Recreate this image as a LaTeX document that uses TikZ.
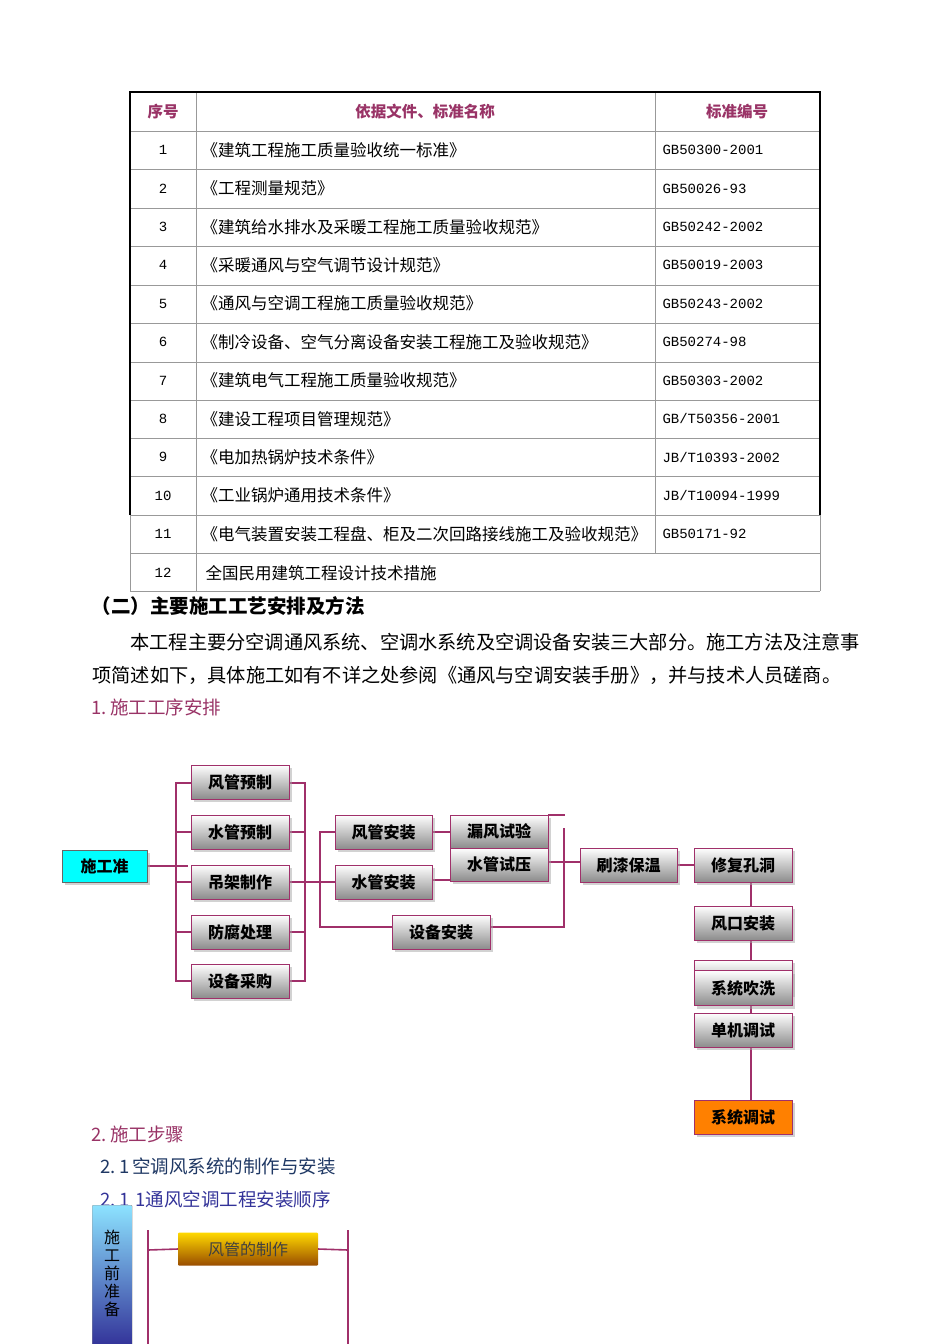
\documentclass[tikz,border=0pt]{standalone}
\usepackage{fontspec}
\setmainfont{Noto Sans CJK SC}
\newfontfamily\monof{Liberation Mono}
\usetikzlibrary{shadows}
\definecolor{mar}{HTML}{993366}
\definecolor{ln}{HTML}{A0306A}
\definecolor{dblue}{HTML}{1F3864}
\definecolor{pblue}{HTML}{333399}
\tikzset{
 gbox/.style={draw=ln,line width=1pt,top color=white,bottom color=black!45,minimum width=98pt,minimum height=34pt,inner sep=0pt,font=\fontsize{16}{16}\selectfont\bfseries,drop shadow={shadow xshift=3pt,shadow yshift=-3pt,fill=black!35}},
 wire/.style={draw=ln,line width=1.6pt},
 tline/.style={draw=black!40,line width=0.6pt},
 tc/.style={font=\fontsize{16.5}{16.5}\selectfont,anchor=west},
 tm/.style={font=\monof\fontsize{14}{14}\selectfont,anchor=west},
}
\begin{document}
\begin{tikzpicture}[x=1pt,y=-1pt]
\useasboundingbox[fill=white] (0,0) rectangle (950,1344);
% table
\foreach \y in {131,169,208,246,285,323,362,400,438,476,515,553} \draw[tline] (130,\y) -- (820,\y);
\draw[tline] (130,591) -- (820,591);
\draw[tline] (130,515) -- (130,591);
\draw[tline] (820,515) -- (820,591);
\draw[tline] (196,92) -- (196,591);
\draw[tline] (655,92) -- (655,553);
\draw[line width=1.8pt] (130,515) -- (130,92) -- (820,92) -- (820,515);
\node[font=\fontsize{15.5}{15.5}\selectfont\bfseries,text=mar] (h1) at (163,112) {序号};
\node[font=\fontsize{15.5}{15.5}\selectfont\bfseries,text=mar] (h2) at (425,112) {依据文件、标准名称};
\node[font=\fontsize{15.5}{15.5}\selectfont\bfseries,text=mar] (h3) at (737,112) {标准编号};
\foreach \i/\n/\c [count=\k] in {
 1/《建筑工程施工质量验收统一标准》/GB50300-2001,
 2/《工程测量规范》/GB50026-93,
 3/《建筑给水排水及采暖工程施工质量验收规范》/GB50242-2002,
 4/《采暖通风与空气调节设计规范》/GB50019-2003,
 5/《通风与空调工程施工质量验收规范》/GB50243-2002,
 6/《制冷设备、空气分离设备安装工程施工及验收规范》/GB50274-98,
 7/《建筑电气工程施工质量验收规范》/GB50303-2002,
 8/《建设工程项目管理规范》/{GB/T50356-2001},
 9/《电加热锅炉技术条件》/{JB/T10393-2002},
 10/《工业锅炉通用技术条件》/{JB/T10094-1999},
 11/《电气装置安装工程盘、柜及二次回路接线施工及验收规范》/GB50171-92}{
 \pgfmathsetmacro\yy{150+38.4*(\k-1)}
 \node[font=\monof\fontsize{14}{14}\selectfont] (n\k) at (163,\yy) {\i};
 \node[tc] (t\k) at (198,\yy) {\n};
 \node[tm] (c\k) at (659,\yy) {\c};
}
\node[font=\monof\fontsize{14}{14}\selectfont] (n12) at (163,573) {12};
\node[tc] (t12) at (202,573) {全国民用建筑工程设计技术措施};
% text
\node[anchor=west,font=\fontsize{19.5}{19.5}\selectfont\bfseries] (sec) at (88,606) {（二）主要施工工艺安排及方法};
\node[anchor=west,font=\fontsize{19.2}{19.2}\selectfont] (p1) at (127,642) {本工程主要分空调通风系统、空调水系统及空调设备安装三大部分。施工方法及注意事};
\node[anchor=west,font=\fontsize{19.2}{19.2}\selectfont] (p2) at (89,675) {项简述如下，具体施工如有不详之处参阅《通风与空调安装手册》，并与技术人员磋商。};
\node[anchor=west,font=\fontsize{18.5}{18.5}\selectfont,text=mar] (s1) at (88,707) {1.\,施工工序安排};
% flow chart wires
\draw[wire] (147,866) -- (188,866);
\draw[wire] (191,783) -| (176,981) -- (191,981);
\foreach \y in {832,882,932} \draw[wire] (176,\y) -- (191,\y);
\draw[wire] (289,783) -| (305,981) -- (289,981);
\foreach \y in {832,932} \draw[wire] (289,\y) -- (305,\y);
\draw[wire] (289,882) -- (335,882);
\draw[wire] (335,832) -| (320,927) -- (392,927);
\draw[wire] (432,832) -- (450,832);
\draw[wire] (432,880) -- (450,880);
\draw[wire] (548,815) -- (565,815);
\draw[wire] (490,927) -| (564,828);
\draw[wire] (548,862) -- (580,862);
\draw[wire] (677,865) -- (694,865);
\draw[wire] (751,882) -- (751,1100);
% boxes
\node[gbox,fill=cyan,top color=cyan,bottom color=cyan,draw=black!60,minimum width=85pt,minimum height=32pt] (a0) at (104.5,866) {施工准};
\node[gbox] (b1) at (240,782) {风管预制};
\node[gbox] (b2) at (240,832) {水管预制};
\node[gbox] (b3) at (240,882) {吊架制作};
\node[gbox] (b4) at (240,932) {防腐处理};
\node[gbox] (b5) at (240,981) {设备采购};
\node[gbox,minimum width=97pt] (c1) at (383.5,832) {风管安装};
\node[gbox,minimum width=97pt] (c2) at (383.5,882) {水管安装};
\node[gbox] (c3) at (441,932) {设备安装};
\node[gbox,minimum height=33pt] (d1) at (499,831.5) {漏风试验};
\node[gbox,minimum height=33pt] (d2) at (499,864.5) {水管试压};
\node[gbox,minimum width=97pt] (e1) at (628.5,865) {刷漆保温};
\node[gbox] (f1) at (743,865) {修复孔洞};
\node[gbox] (f2) at (743,923) {风口安装};
\node[gbox] (f3x) at (743,977) {};
\node[gbox,minimum height=35pt] (f3) at (743,988) {系统吹洗};
\node[gbox] (f4) at (743,1030) {单机调试};
\node[gbox,top color=orange,bottom color=orange,fill=orange] (f5) at (743,1117) {系统调试};
% part 2
\node[anchor=west,font=\fontsize{18.5}{18.5}\selectfont,text=mar] (s2) at (88,1134) {2.\,施工步骤};
\node[anchor=west,font=\fontsize{18.5}{18.5}\selectfont,text=dblue] (s21) at (97,1166) {2.\,1\,空调风系统的制作与安装};
\node[anchor=west,font=\fontsize{18.5}{18.5}\selectfont,text=pblue] (s211) at (97,1199) {2.\,1\,\,1通风空调工程安装顺序};
\node[draw=black!40,top color=blue!25!cyan!45,bottom color=blue!50!black!80,minimum width=40pt,minimum height=140pt,anchor=north west,inner sep=0pt,rounded corners=1pt] (pre) at (92,1205) {};
\node[font=\fontsize{16}{18}\selectfont,align=center,anchor=north] (pret) at (112,1226) {施\\工\\前\\准\\备};
\draw[wire] (148,1230) -- (148,1344);
\draw[wire] (348,1230) -- (348,1344);
\node[draw=none,top color=yellow!70!orange,bottom color=orange!60!black,minimum width=140pt,minimum height=33pt,inner sep=0pt,rounded corners=1pt,font=\fontsize{16}{16}\selectfont,text=black!75] (g1) at (248,1249) {风管的制作};
\draw[wire] (148,1250) -- (g1.west);
\draw[wire] (g1.east) -- (348,1250);
\end{tikzpicture}
\end{document}
